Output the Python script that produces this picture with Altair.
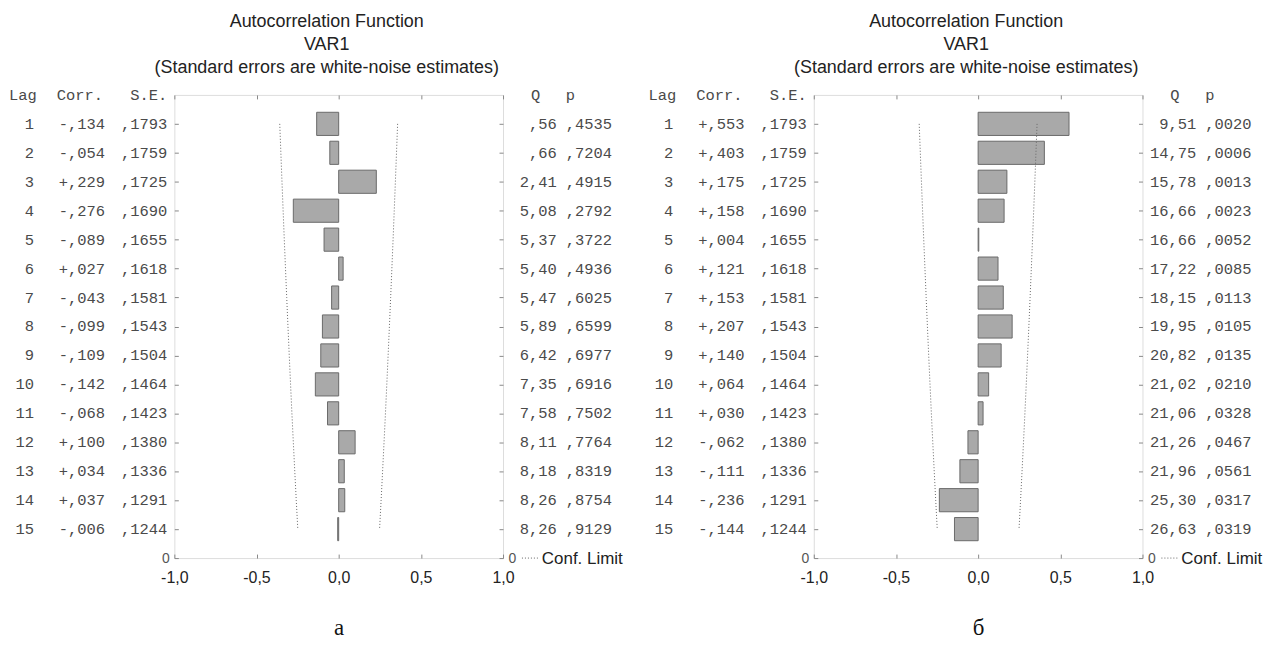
import altair as alt
import pandas as pd

# ---------------- data ----------------
lags = list(range(1, 16))
se = [0.1793, 0.1759, 0.1725, 0.1690, 0.1655, 0.1618, 0.1581, 0.1543,
      0.1504, 0.1464, 0.1423, 0.1380, 0.1336, 0.1291, 0.1244]

corr_a = [-0.134, -0.054, 0.229, -0.276, -0.089, 0.027, -0.043, -0.099,
          -0.109, -0.142, -0.068, 0.100, 0.034, 0.037, -0.006]
q_a = [0.56, 0.66, 2.41, 5.08, 5.37, 5.40, 5.47, 5.89, 6.42, 7.35, 7.58,
       8.11, 8.18, 8.26, 8.26]
p_a = [0.4535, 0.7204, 0.4915, 0.2792, 0.3722, 0.4936, 0.6025, 0.6599,
       0.6977, 0.6916, 0.7502, 0.7764, 0.8319, 0.8754, 0.9129]

corr_b = [0.553, 0.403, 0.175, 0.158, 0.004, 0.121, 0.153, 0.207, 0.140,
          0.064, 0.030, -0.062, -0.111, -0.236, -0.144]
q_b = [9.51, 14.75, 15.78, 16.66, 16.66, 17.22, 18.15, 19.95, 20.82,
       21.02, 21.06, 21.26, 21.96, 25.30, 26.63]
p_b = [0.0020, 0.0006, 0.0013, 0.0023, 0.0052, 0.0085, 0.0113, 0.0105,
       0.0135, 0.0210, 0.0328, 0.0467, 0.0561, 0.0317, 0.0319]

x_ticks = [-1.0, -0.5, 0.0, 0.5, 1.0]
y_ticks = list(range(1, 17))
title_lines = ["Autocorrelation Function", "VAR1",
               "(Standard errors are white-noise estimates)"]
header_left = ["Lag", "Corr.", "S.E."]
header_right = ["Q", "p"]
legend_label = ["Conf. Limit"]
captions = ["а", "б"]

# ---------------- layout / style ----------------
W, H = 330, 465
MONO = "Liberation Mono"
SANS = "Liberation Sans"
SERIF = "Liberation Serif"
TXT = "#4a4a4a"
MONO_SIZE = 15.5


def dec(v, nd):
    s = f"{abs(v):.{nd}f}"
    if s.startswith("0."):
        s = s[1:]
    return s.replace(".", ",")


def fmt_corr(v):
    return ("-" if v < 0 else "+") + dec(v, 3)


def make_panel(corr, q, p, caption):
    df = pd.DataFrame({
        "lag": lags,
        "corr": corr,
        "se": se,
        "lag_txt": [str(v) for v in lags],
        "corr_txt": [fmt_corr(v) for v in corr],
        "se_txt": [dec(v, 4) for v in se],
        "q_txt": [dec(v, 2) for v in q],
        "p_txt": [dec(v, 4) for v in p],
    })
    base = alt.Chart(df)
    xs = alt.Scale(domain=[-1, 1], nice=False, zero=False)
    ys = alt.Scale(domain=[0, 16], nice=False, zero=False, reverse=True)

    label_expr = "replace(replace(format(datum.value, '.1f'), '.', ','), '\u2212', '-')"

    bars = base.transform_calculate(
        y0="datum.lag - 0.4", y1="datum.lag + 0.4"
    ).mark_rect(fill="#a9a9a9", stroke="#6a6a6a", strokeWidth=1).encode(
        x=alt.X("corr:Q", scale=xs, axis=alt.Axis(
            values=x_ticks, labelExpr=label_expr, orient="bottom",
            labelFont=SANS, labelFontSize=16, labelColor="#222222",
            labelPadding=12, tickSize=4, tickColor="#888888", offset=-4,
            domain=False, grid=False, labelFlush=False,
            title=caption, titleFont=SERIF, titleFontSize=23,
            titleFontWeight="normal", titleColor="#111111", titlePadding=31)),
        x2=alt.datum(0),
        y=alt.Y("y0:Q", scale=ys, axis=alt.Axis(
            values=y_ticks, orient="left",
            labelExpr="datum.value == 16 ? '0' : ''",
            labelFont=SANS, labelFontSize=14, labelColor="#555555",
            labelPadding=5, tickSize=4, tickColor="#888888", offset=-4,
            domain=False, grid=False, title=None)),
        y2="y1:Q",
    )

    conf = base.transform_calculate(
        lo="-2 * datum.se", hi="2 * datum.se"
    ).transform_fold(["lo", "hi"], as_=["side", "limit"]).mark_line(
        stroke="#666666", strokeWidth=1, strokeDash=[1, 2]
    ).encode(
        x=alt.X("limit:Q", scale=xs, axis=alt.Axis(
            values=x_ticks, orient="top", labels=False, tickSize=4,
            tickColor="#888888", offset=-4, domain=False, grid=False,
            title=None)),
        y=alt.Y("lag:Q", scale=ys, axis=alt.Axis(
            values=y_ticks, orient="right",
            labelExpr="datum.value == 16 ? '0' : ''",
            labelFont=SANS, labelFontSize=14, labelColor="#555555",
            labelPadding=5, tickSize=4, tickColor="#888888", offset=-4,
            domain=False, grid=False, title=None)),
        detail="side:N",
        order="lag:Q",
    )

    def col(field, xpos, align):
        return base.mark_text(
            font=MONO, fontSize=MONO_SIZE, color=TXT, align=align,
            baseline="middle"
        ).encode(
            x=alt.value(xpos),
            y=alt.Y("lag:Q", scale=ys, axis=None),
            text=alt.Text(f"{field}:N"),
        )

    def head(text, xpos, align):
        return alt.Chart(pd.DataFrame({"t": [text]})).mark_text(
            font=MONO, fontSize=MONO_SIZE, color=TXT, align=align,
            baseline="middle"
        ).encode(x=alt.value(xpos), y=alt.value(0), text="t:N")

    texts = [
        col("lag_txt", -141, "right"),
        col("corr_txt", -116, "left"),
        col("se_txt", -7, "right"),
        col("q_txt", W + 54, "right"),
        col("p_txt", W + 63, "left"),
        head(header_left[0], -166, "left"),
        head(header_left[1], -118, "left"),
        head(header_left[2], -7, "right"),
        head(header_right[0], W + 28, "left"),
        head(header_right[1], W + 63, "left"),
    ]

    leg_df = pd.DataFrame({"t": legend_label})
    leg_line = alt.Chart(leg_df).mark_rule(
        stroke="#666666", strokeWidth=1, strokeDash=[1, 2]
    ).encode(x=alt.value(W + 19), x2=alt.value(W + 35), y=alt.value(H))
    leg_text = alt.Chart(leg_df).mark_text(
        font=SANS, fontSize=17, color="#222222", align="left",
        baseline="middle"
    ).encode(x=alt.value(W + 39), y=alt.value(H + 1), text="t:N")

    return alt.layer(bars, conf, *texts, leg_line, leg_text).resolve_axis(
        x="independent", y="independent"
    ).properties(
        width=W, height=H,
        title=alt.TitleParams(
            text=title_lines, font=SANS, fontSize=18, fontWeight="normal",
            color="#222222", lineHeight=23, anchor="middle", frame="group",
            offset=11, dx=-12),
    )


left = make_panel(corr_a, q_a, p_a, captions[0])
right = make_panel(corr_b, q_b, p_b, captions[1])

chart = alt.hconcat(left, right, spacing=312, bounds="flush").properties(
    padding={"left": 0, "top": 3, "right": 0, "bottom": 0}
).configure_view(stroke="#8a8a8a", strokeWidth=1.5).configure(
    background="white"
)

chart.save("out.html", embed_options={"renderer": "svg", "actions": False})
